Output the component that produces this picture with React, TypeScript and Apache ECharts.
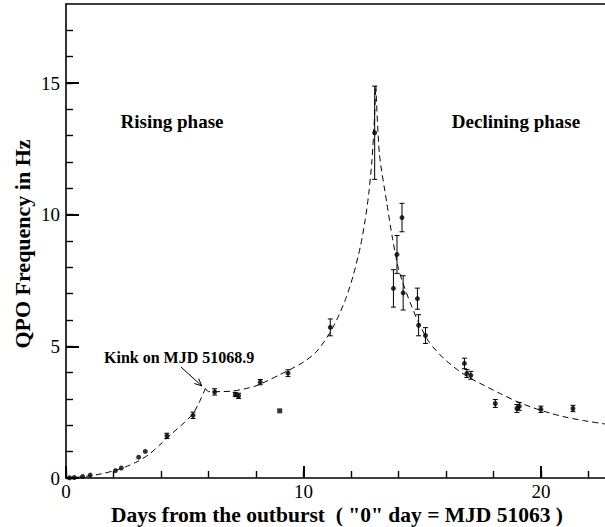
import React, { useEffect, useRef } from 'react';
import * as echarts from 'echarts';

// Axis ranges and ticks
const X_MIN = 0;
const X_MAX = 22.7;
const Y_MIN = 0;
const Y_MAX = 18;
const X_MINOR_TICKS = [0, 2, 4, 6, 8, 10, 12, 14, 16, 18, 20, 22];
const X_MAJOR_TICKS = [0, 10, 20];
const Y_MINOR_TICKS = [0, 1, 2, 3, 4, 5, 6, 7, 8, 9, 10, 11, 12, 13, 14, 15, 16, 17];
const Y_MAJOR_TICKS = [0, 5, 10, 15];

// Observed QPO frequencies (days from outburst, Hz, error)
const obsDays = [0.15, 0.35, 0.7, 1.02, 2.08, 2.33, 3.06, 3.34, 4.25, 5.35, 6.26, 7.13, 7.27, 8.18, 9.35, 11.13, 13.0, 13.79, 13.94, 14.15, 14.2, 14.8, 14.85, 15.14, 16.78, 16.88, 17.05, 18.08, 18.99, 19.09, 20.0, 21.35];
const obsFreq = [0.01, 0.02, 0.06, 0.11, 0.28, 0.38, 0.79, 1.01, 1.6, 2.38, 3.27, 3.17, 3.12, 3.64, 3.98, 5.72, 13.11, 7.2, 8.49, 9.89, 7.03, 6.81, 5.8, 5.41, 4.35, 3.97, 3.9, 2.83, 2.64, 2.72, 2.61, 2.64];
const obsErr = [0, 0, 0, 0, 0, 0, 0, 0, 0.1, 0.12, 0.12, 0.08, 0.1, 0.1, 0.13, 0.32, 1.77, 0.71, 0.72, 0.54, 0.65, 0.4, 0.4, 0.3, 0.2, 0.15, 0.15, 0.15, 0.15, 0.15, 0.12, 0.12];

// Isolated point
const outlierDays = [9.0];
const outlierFreq = [2.55];

// Fitted (dashed) curve, in three pieces
const fitRiseDays = [0, 0.5, 1, 1.5, 2, 2.5, 3, 3.5, 4, 4.5, 5, 5.35, 5.6, 5.87];
const fitRiseFreq = [0, 0.03, 0.08, 0.16, 0.27, 0.42, 0.62, 0.9, 1.3, 1.72, 2.12, 2.45, 2.85, 3.4];
const fitMidDays = [5.87, 6, 6.5, 7, 7.5, 8, 8.5, 9, 9.5, 10, 10.5, 11, 11.4, 11.8, 12.1, 12.4, 12.6, 12.75, 12.88, 12.97, 13.05];
const fitMidFreq = [3.4, 3.28, 3.28, 3.3, 3.38, 3.5, 3.7, 3.92, 4.15, 4.4, 4.75, 5.35, 6.0, 6.85, 7.7, 8.8, 9.8, 10.8, 12.0, 13.3, 14.9];
const fitDeclDays = [13.05, 13.2, 13.5, 13.75, 14, 14.25, 14.5, 14.85, 15.3, 15.9, 16.5, 17, 17.6, 18.3, 19, 19.7, 20.4, 21.1, 21.8, 22.7];
const fitDeclFreq = [14.9, 12.3, 10.5, 9.1, 7.95, 7.25, 6.65, 5.9, 5.15, 4.55, 4.1, 3.8, 3.52, 3.2, 2.9, 2.66, 2.46, 2.3, 2.18, 2.05];

// Kink annotation
const KINK_DAY = 5.87;
const KINK_FREQ = 3.4;

const FONT = '"Liberation Serif", "Times New Roman", "DejaVu Serif", serif';

const zip = (a: number[], b: number[]) => a.map((v, i) => [v, b[i]]);

export default function App() {
  const ref = useRef<HTMLDivElement>(null);

  useEffect(() => {
    if (!ref.current) return;
    const chart = echarts.init(ref.current, undefined, { renderer: 'svg' });

    const grid = { left: 66, right: 0, top: 4, bottom: 49 };
    const axisLineStyle = { color: '#000', width: 1.6 };

    const errData = obsDays
      .map((d, i) => [d, obsFreq[i], obsErr[i]])
      .filter((r) => r[2] > 0);

    const dashed = { color: '#000', width: 1, type: [6, 4] as number[] };

    const fitSeries = (days: number[], freq: number[]) => ({
      type: 'line',
      xAxisIndex: 0,
      yAxisIndex: 0,
      data: zip(days, freq),
      showSymbol: false,
      smooth: 0.25,
      lineStyle: dashed,
      silent: true,
    });

    chart.setOption({
      animation: false,
      backgroundColor: '#fff',
      grid: [grid, grid],
      xAxis: [
        {
          gridIndex: 0,
          type: 'value',
          position: 'bottom',
          min: X_MIN,
          max: X_MAX,
          interval: 2,
          axisLine: { show: true, onZero: false, lineStyle: axisLineStyle },
          axisTick: { show: true, inside: true, length: 7, customValues: X_MINOR_TICKS, lineStyle: { color: '#000', width: 1.4 } },
          axisLabel: { show: false },
          splitLine: { show: false },
        },
        {
          gridIndex: 0,
          type: 'value',
          position: 'top',
          min: X_MIN,
          max: X_MAX,
          axisLine: { show: true, onZero: false, lineStyle: axisLineStyle },
          axisTick: { show: false },
          axisLabel: { show: false },
          splitLine: { show: false },
        },
        {
          gridIndex: 1,
          type: 'value',
          position: 'bottom',
          min: X_MIN,
          max: X_MAX,
          interval: 10,
          axisLine: { show: false, onZero: false },
          axisTick: { show: true, inside: true, length: 12, customValues: X_MAJOR_TICKS, lineStyle: { color: '#000', width: 2 } },
          axisLabel: {
            show: true,
            customValues: X_MAJOR_TICKS,
            formatter: (v: number) => (X_MAJOR_TICKS.includes(v) ? String(v) : ''),
            color: '#000',
            fontFamily: FONT,
            fontSize: 19,
            margin: 4,
          },
          splitLine: { show: false },
        },
      ],
      yAxis: [
        {
          gridIndex: 0,
          type: 'value',
          position: 'left',
          min: Y_MIN,
          max: Y_MAX,
          interval: 1,
          axisLine: { show: true, onZero: false, lineStyle: axisLineStyle },
          axisTick: { show: true, inside: true, length: 7, customValues: Y_MINOR_TICKS, lineStyle: { color: '#000', width: 1.4 } },
          axisLabel: { show: false },
          splitLine: { show: false },
        },
        {
          gridIndex: 1,
          type: 'value',
          position: 'left',
          min: Y_MIN,
          max: Y_MAX,
          interval: 5,
          axisLine: { show: false, onZero: false },
          axisTick: { show: true, inside: true, length: 13, customValues: Y_MAJOR_TICKS, lineStyle: { color: '#000', width: 2 } },
          axisLabel: {
            show: true,
            customValues: Y_MAJOR_TICKS,
            formatter: (v: number) => (Y_MAJOR_TICKS.includes(v) ? String(v) : ''),
            color: '#000',
            fontFamily: FONT,
            fontSize: 19,
            margin: 6,
          },
          splitLine: { show: false },
        },
      ],
      series: [
        fitSeries(fitRiseDays, fitRiseFreq),
        fitSeries(fitMidDays, fitMidFreq),
        fitSeries(fitDeclDays, fitDeclFreq),
        {
          type: 'custom',
          xAxisIndex: 0,
          yAxisIndex: 0,
          data: errData,
          encode: { x: 0, y: 1 },
          silent: true,
          renderItem: (params: any, api: any) => {
            const x = api.value(0);
            const y = api.value(1);
            const e = api.value(2);
            const top = api.coord([x, y + e]);
            const bot = api.coord([x, y - e]);
            const cap = 2.5;
            const style = { stroke: '#000', lineWidth: 1 };
            return {
              type: 'group',
              children: [
                { type: 'line', shape: { x1: top[0], y1: top[1], x2: bot[0], y2: bot[1] }, style },
                { type: 'line', shape: { x1: top[0] - cap, y1: top[1], x2: top[0] + cap, y2: top[1] }, style },
                { type: 'line', shape: { x1: bot[0] - cap, y1: bot[1], x2: bot[0] + cap, y2: bot[1] }, style },
              ],
            };
          },
        },
        {
          type: 'scatter',
          xAxisIndex: 0,
          yAxisIndex: 0,
          data: zip(obsDays, obsFreq),
          symbol: 'circle',
          symbolSize: 5,
          itemStyle: { color: '#000' },
          silent: true,
        },
        {
          type: 'scatter',
          xAxisIndex: 0,
          yAxisIndex: 0,
          data: zip(outlierDays, outlierFreq),
          symbol: 'rect',
          symbolSize: 5,
          itemStyle: { color: '#000' },
          silent: true,
        },
      ],
    });

    const kp = chart.convertToPixel({ gridIndex: 0 }, [KINK_DAY, KINK_FREQ]) as number[];
    const tip = [kp[0] - 3.5, kp[1] - 2.5];
    const start = [tip[0] - 21, tip[1] - 19];
    const dx = tip[0] - start[0];
    const dy = tip[1] - start[1];
    const len = Math.sqrt(dx * dx + dy * dy);
    const ux = dx / len;
    const uy = dy / len;
    const hl = 8;
    const ang = 0.42;
    const rot = (a: number) => [ux * Math.cos(a) - uy * Math.sin(a), ux * Math.sin(a) + uy * Math.cos(a)];
    const r1 = rot(ang);
    const r2 = rot(-ang);

    const textStyle = (size: number, bold = true) => ({
      fontFamily: FONT,
      fontSize: size,
      fontWeight: bold ? 'bold' : 'normal',
      fill: '#000',
    });

    chart.setOption({
      graphic: [
        {
          type: 'text',
          x: 22,
          y: 244,
          rotation: Math.PI / 2,
          style: { ...textStyle(22), text: 'QPO Frequency in Hz', align: 'center', verticalAlign: 'middle' },
        },
        {
          type: 'text',
          x: 337,
          y: 515,
          style: { ...textStyle(21.5), text: 'Days from the outburst  ( "0" day = MJD 51063 )', align: 'center', verticalAlign: 'middle' },
        },
        {
          type: 'text',
          x: 172,
          y: 121,
          style: { ...textStyle(19), text: 'Rising phase', align: 'center', verticalAlign: 'middle' },
        },
        {
          type: 'text',
          x: 516,
          y: 121,
          style: { ...textStyle(19), text: 'Declining phase', align: 'center', verticalAlign: 'middle' },
        },
        {
          type: 'text',
          x: 104,
          y: 357,
          style: { ...textStyle(16), text: 'Kink on MJD 51068.9', align: 'left', verticalAlign: 'middle' },
        },
        {
          type: 'line',
          shape: { x1: start[0], y1: start[1], x2: tip[0], y2: tip[1] },
          style: { stroke: '#000', lineWidth: 1 },
        },
        {
          type: 'polyline',
          shape: {
            points: [
              [tip[0] - r1[0] * hl, tip[1] - r1[1] * hl],
              [tip[0], tip[1]],
              [tip[0] - r2[0] * hl, tip[1] - r2[1] * hl],
            ],
          },
          style: { stroke: '#000', lineWidth: 1, fill: 'none' },
        },
      ],
    });

    return () => chart.dispose();
  }, []);

  return <div ref={ref} style={{ position: 'fixed', left: 0, top: 0, width: 605, height: 527, background: '#fff' }} />;
}
